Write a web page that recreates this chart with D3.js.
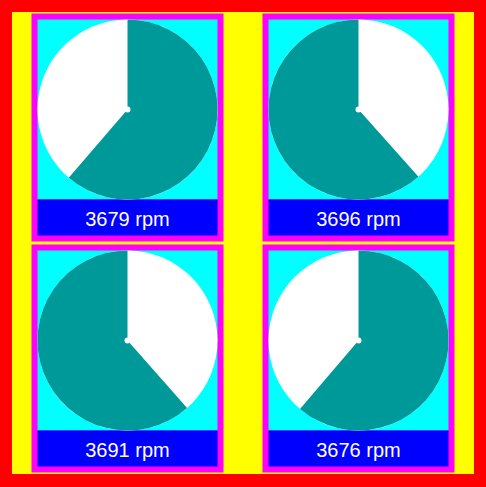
<!DOCTYPE html>
<html>
<head>
<meta charset="utf-8">
<script src="https://cdn.jsdelivr.net/npm/d3@7"></script>
<style>
html,body{margin:0;padding:0;background:#fff;}
svg{display:block;}
</style>
</head>
<body>
<script>
const labels = ["3679 rpm", "3696 rpm", "3691 rpm", "3676 rpm"];
const rpm = [3679, 3696, 3691, 3676];
const direction = [1, -1, -1, 1]; // 1 = clockwise, -1 = counter-clockwise
const maxRpm = 6000;

const W = 486, H = 487;
const svg = d3.select("body").append("svg").attr("width", W).attr("height", H);

svg.append("rect").attr("width", W).attr("height", H).attr("fill", "#ff0000");
svg.append("rect").attr("x", 12).attr("y", 12).attr("width", 462).attr("height", 462).attr("fill", "#ffff00");

const panelW = 192, panelH = 228, border = 6, pieSize = 180, bandH = 36;
const xs = [31.5, 262.5], ys = [13.5, 244.5];

const angle = d3.scaleLinear().domain([0, maxRpm]).range([0, 2 * Math.PI]);
const arc = d3.arc().innerRadius(0).outerRadius(pieSize / 2);

rpm.forEach((v, i) => {
  const g = svg.append("g")
    .attr("transform", `translate(${xs[i % 2]},${ys[Math.floor(i / 2)]})`);
  g.append("rect").attr("width", panelW).attr("height", panelH).attr("fill", "#ff00ff");
  g.append("rect").attr("x", border).attr("y", border)
    .attr("width", pieSize).attr("height", pieSize).attr("fill", "#00ffff");
  g.append("rect").attr("x", border).attr("y", border + pieSize)
    .attr("width", pieSize).attr("height", bandH).attr("fill", "#0000ff");

  const c = g.append("g").attr("transform", `translate(${border + pieSize / 2},${border + pieSize / 2})`);
  c.append("circle").attr("r", pieSize / 2).attr("fill", "#ffffff");
  const a = angle(v);
  const d = direction[i] === 1
    ? arc({startAngle: 0, endAngle: a})
    : arc({startAngle: 2 * Math.PI - a, endAngle: 2 * Math.PI});
  c.append("path").attr("d", d).attr("fill", "#009999");
  c.append("circle").attr("r", 3).attr("fill", "#ffffff");

  g.append("text")
    .attr("x", border + pieSize / 2)
    .attr("y", border + pieSize + 26.5)
    .attr("text-anchor", "middle")
    .attr("fill", "#ffffff")
    .style("font-family", "'Liberation Sans', Arial, sans-serif")
    .style("font-size", "20px")
    .text(labels[i]);
});
</script>
</body>
</html>
